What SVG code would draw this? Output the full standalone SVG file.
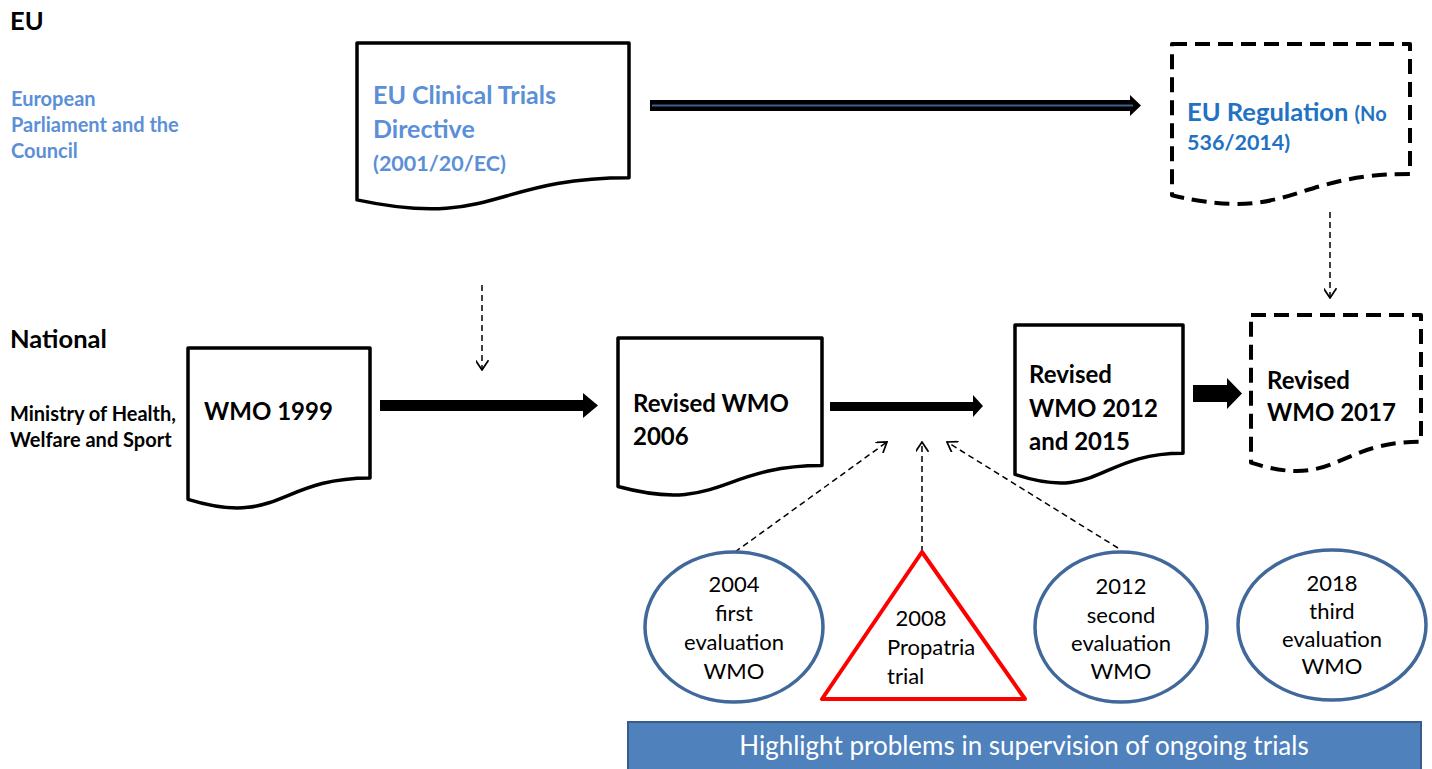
<svg xmlns="http://www.w3.org/2000/svg" width="1432" height="769" viewBox="0 0 1432 769">
<defs>
<style>
text{font-family:Lato,"Open Sans","Liberation Sans",sans-serif;}
.b{font-weight:bold;}
.lbl{font-size:25.5px;font-weight:bold;fill:#000;}
.side{font-size:20px;font-weight:bold;}
.doc{fill:#fff;stroke:#000;stroke-width:3.5;stroke-linejoin:round;}
.dash{stroke-dasharray:15 8;stroke-width:4;}
.dt{font-size:24px;font-weight:bold;fill:#000;}
.ev{fill:#fff;stroke:#41689A;stroke-width:3.5;}
.et{font-size:22px;fill:#000;text-anchor:middle;}
.thin{fill:none;stroke:#000;stroke-width:1.5;stroke-dasharray:6 4;marker-end:url(#v);}
.big{fill:#000;}
</style>
<marker id="v" viewBox="0 0 10 12" refX="9" refY="6" markerWidth="11" markerHeight="13" markerUnits="userSpaceOnUse" orient="auto">
<path d="M0,0 L9,6 L0,12" fill="none" stroke="#000" stroke-width="1.6"/>
</marker>
</defs>

<g id="labels">
<text x="10" y="30" class="lbl">EU</text>
<text class="side" fill="#5B8FD6"><tspan x="11" y="106">European</tspan><tspan x="11" y="132">Parliament and the</tspan><tspan x="11" y="158">Council</tspan></text>
<text x="10" y="348" class="lbl">National</text>
<text class="side" fill="#000"><tspan x="10" y="421">Ministry of Health,</tspan><tspan x="10" y="447">Welfare and Sport</tspan></text>
</g>

<g id="connectors">
<polygon class="big" points="650,100 1130,100 1130,95 1141,105.5 1130,116 1130,111 650,111"/>
<line x1="652" y1="105.5" x2="1133" y2="105.5" stroke="#3E5F8F" stroke-width="2"/>
<polygon class="big" points="380,400 583,400 583,393 598,405.5 583,418 583,411 380,411"/>
<polygon class="big" points="830,402 973,402 973,395 983,406 973,417 973,411 830,411"/>
<polygon class="big" points="1193,385 1227,385 1227,378 1242,393.5 1227,409 1227,402 1193,402"/>
<line class="thin" x1="482" y1="285" x2="482" y2="370"/>
<line class="thin" x1="1330" y1="212" x2="1330" y2="298"/>
<line class="thin" x1="735" y1="552" x2="887" y2="442"/>
<line class="thin" x1="922" y1="552" x2="922" y2="442"/>
<line class="thin" x1="1118" y1="548" x2="947" y2="442"/>
</g>

<g id="directive">
<path class="doc" d="M357,43 H629 V177.7 C493,177.7 493,229.1 357,199.9 Z"/>
<text class="b" fill="#5B8FD6" font-size="25"><tspan x="373" y="104">EU Clinical Trials</tspan><tspan x="373" y="138">Directive</tspan></text>
<text x="373" y="171" class="b" fill="#5B8FD6" font-size="21.5">(2001/20/EC)</text>
</g>

<g id="regulation">
<path class="doc dash" d="M1172,44 H1410 V173.9 C1291,173.9 1291,223.4 1172,195.3 Z"/>
<text x="1187" y="121" class="b" fill="#2272C3" font-size="25.5">EU Regulation <tspan font-size="20">(No</tspan></text>
<text x="1187" y="150" class="b" fill="#2272C3" font-size="21.5">536/2014)</text>
</g>

<g id="wmo1999">
<path class="doc" d="M188,348 H370 V477.9 C279,477.9 279,527.4 188,499.3 Z"/>
<text x="204" y="420" class="dt" font-size="28">WMO 1999</text>
</g>

<g id="wmo2006">
<path class="doc" d="M618,338 H822 V465.5 C720,465.5 720,514.1 618,486.5 Z"/>
<text class="dt" font-size="25.5"><tspan x="633" y="412">Revised WMO</tspan><tspan x="633" y="445">2006</tspan></text>
</g>

<g id="wmo2012">
<path class="doc" d="M1015,325 H1183 V453.3 C1099,453.3 1099,502.2 1015,474.4 Z"/>
<text class="dt"><tspan x="1029" y="383">Revised</tspan><tspan x="1029" y="417">WMO 2012</tspan><tspan x="1029" y="450">and 2015</tspan></text>
</g>

<g id="wmo2017">
<path class="doc dash" d="M1251,315 H1421 V441.7 C1336,441.7 1336,490 1251,462.6 Z"/>
<text class="dt"><tspan x="1267" y="389">Revised</tspan><tspan x="1267" y="421">WMO 2017</tspan></text>
</g>

<g id="eval2004">
<ellipse class="ev" cx="734" cy="627" rx="89" ry="75"/>
<text class="et"><tspan x="734" y="592">2004</tspan><tspan x="734" y="621">first</tspan><tspan x="734" y="650">evaluation</tspan><tspan x="734" y="679">WMO</tspan></text>
</g>

<g id="propatria">
<polygon points="922,552 822,699 1025,699" fill="#fff" stroke="#FF0000" stroke-width="4" stroke-linejoin="round"/>
<text x="921" y="626" class="et">2008</text>
<text font-size="22" fill="#000"><tspan x="887" y="655">Propatria</tspan><tspan x="887" y="684">trial</tspan></text>
</g>

<g id="eval2012">
<ellipse class="ev" cx="1121" cy="627" rx="86" ry="75"/>
<text class="et"><tspan x="1121" y="594">2012</tspan><tspan x="1121" y="623">second</tspan><tspan x="1121" y="651">evaluation</tspan><tspan x="1121" y="679">WMO</tspan></text>
</g>

<g id="eval2018">
<ellipse class="ev" cx="1332" cy="625" rx="94" ry="75"/>
<text class="et"><tspan x="1332" y="591">2018</tspan><tspan x="1332" y="619">third</tspan><tspan x="1332" y="647">evaluation</tspan><tspan x="1332" y="674">WMO</tspan></text>
</g>

<g id="banner">
<rect x="628" y="722" width="793" height="52" fill="#4F81BD" stroke="#385D8A" stroke-width="2"/>
<text x="1024" y="755" font-size="26" fill="#fff" text-anchor="middle">Highlight problems in supervision of ongoing trials</text>
</g>
</svg>
